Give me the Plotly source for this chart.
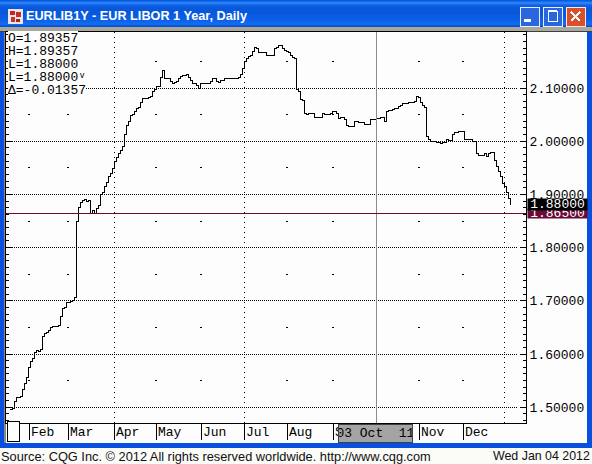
import plotly.graph_objects as go

# ---- data ----
sessions = [0,1,2,3,5,6,7,8,9,10,11,12,13,14,15,16,17,18,19,20,21,24,25,26,27,28,30,31,32,33,34,35,36,37,38,39,40,41,42,43,44,45,46,47,48,49,50,51,52,53,54,55,56,57,58,59,60,61,62,63,64,65,66,69,70,71,72,73,75,76,77,80,81,82,83,84,85,86,88,89,90,91,92,93,94,95,100,101,103,104,105,107,114,115,116,117,118,119,120,121,122,123,124,128,132,133,134,136,137,138,139,140,141,142,143,144,145,146,147,148,149,152,156,157,160,161,163,164,165,167,168,169,172,174,177,180,183,185,187,188,189,191,192,194,195,196,199,202,203,204,205,206,207,208,209,210,213,215,216,218,219,221,222,224,227,231,233,234,237,238,239,240,242,243,244,245,246,247,248,249,250]
closes = [1.495,1.497,1.510,1.519,1.521,1.534,1.545,1.555,1.574,1.585,1.591,1.602,1.606,1.604,1.609,1.632,1.639,1.641,1.645,1.649,1.651,1.653,1.670,1.685,1.688,1.696,1.698,1.701,1.707,1.850,1.876,1.884,1.888,1.891,1.886,1.888,1.865,1.869,1.865,1.873,1.880,1.899,1.904,1.914,1.923,1.933,1.940,1.948,1.961,1.970,1.976,1.983,1.991,2.012,2.030,2.038,2.049,2.051,2.055,2.061,2.064,2.072,2.081,2.083,2.085,2.094,2.098,2.102,2.119,2.132,2.117,2.113,2.109,2.111,2.113,2.117,2.121,2.124,2.126,2.119,2.115,2.109,2.108,2.104,2.100,2.108,2.113,2.117,2.113,2.111,2.115,2.117,2.119,2.126,2.136,2.149,2.156,2.160,2.162,2.168,2.177,2.175,2.166,2.162,2.175,2.177,2.179,2.175,2.170,2.168,2.166,2.162,2.158,2.156,2.098,2.094,2.079,2.076,2.053,2.051,2.053,2.044,2.053,2.051,2.053,2.055,2.053,2.042,2.044,2.040,2.030,2.027,2.038,2.036,2.032,2.040,2.042,2.044,2.038,2.055,2.057,2.059,2.061,2.066,2.068,2.070,2.072,2.074,2.085,2.083,2.072,2.068,2.064,2.008,2.004,2.000,1.998,1.995,1.997,2.004,2.002,2.012,2.017,2.019,2.004,2.000,1.976,1.974,1.976,1.972,1.976,1.978,1.963,1.953,1.944,1.933,1.921,1.914,1.904,1.893,1.880]
month_labels = ["Feb","Mar","Apr","May","Jun","Jul","Aug","Sep","Nov","Dec"]
month_sessions = [9.5,29,52,73,95.5,117,138.5,161.5,204.5,226.5]
dotted_sessions = [52,117,247]
dash_sessions = [9.5,29,73,95.5,138.5,161.5,204.5,226.5]
major_levels = [2.1,2.0,1.9,1.8,1.7,1.6,1.5]
mid_levels = [2.15,2.05,1.95,1.85,1.75,1.65,1.55]
last_value = 1.88
ref_value = 1.865
ohlc_lines = ["O=1.89357","H=1.89357","L=1.88000","L=1.88000\u1d5b","\u0394=-0.01357"]
title_text = "EURLIB1Y - EUR LIBOR 1 Year, Daily"
source_text = "Source: CQG Inc. \u00a9 2012 All rights reserved worldwide. http://www.cqg.com"
date_text = "Wed Jan 04 2012"
cursor_text = "03\u00a0Oct\u00a0\u00a011"

W, H = 592, 464
L, R, T, B = 6, 526, 32, 423
MONO = "Liberation Mono"
px = lambda x: (x - L) / (R - L)
py = lambda y: (B - y) / (B - T)

shapes, annos = [], []

def rect(x0, y0, x1, y1, fill, line=None, lw=1, layer="below"):
    shapes.append(dict(type="rect", xref="paper", yref="paper", x0=px(x0), x1=px(x1), y0=py(y0), y1=py(y1),
                       fillcolor=fill, line=dict(color=line or fill, width=lw if line else 0), layer=layer))

def seg(x0, y0, x1, y1, color, w=1, layer="above"):
    shapes.append(dict(type="line", xref="paper", yref="paper", x0=px(x0), x1=px(x1), y0=py(y0), y1=py(y1),
                       line=dict(color=color, width=w), layer=layer))

def text(x, y, s, font=MONO, size=13, color="black", bold=False, anchor="left", **kw):
    annos.append(dict(xref="paper", yref="paper", x=px(x), y=py(y), text=f"<b>{s}</b>" if bold else s, showarrow=False,
                      xanchor=anchor, yanchor="middle", font=dict(family=font, size=size, color=color),
                      borderpad=0, borderwidth=0, **kw))

# window chrome
rect(0, 448, W, H, "#fbfbf8")
rect(0, 443, W, 448, "#0a50e0")
rect(0, 0, 4, 448, "#0a50e0")
rect(4, 27, 6, 443, "#8a8a80")
rect(587, 27, W, 448, "#0a50e0")
rect(526, 32, 587, 443, "#fdfdfd")
rect(6, 423, 526, 443, "#fdfdfd")
band = ["#0a5bd8","#0f6bf0","#2a83f8","#2a7cf4","#1a6cec","#0f62e4","#0a5ce0","#0858dc","#0858dc","#0858dc","#0858dc","#0858dc",
        "#0858dc","#0858dc","#0858dc","#0a5ce2","#0a5ce2","#0a5ee4","#0a5ee4","#0c60e6","#0c62e8","#0e64ea","#1068ee","#126cf0","#1468ec","#0c5cdc","#0850cc"]
for i, c in enumerate(band):
    rect(0, i, W, i + 1, c)
rect(0, 27, W, 31, "#a8a89c")
rect(0, 31, W, 32, "#404040")
# title icon
rect(8, 9, 23, 24, "#e8e8e8")
rect(10, 11, 15, 15, "#d02020"); rect(16, 12, 21, 17, "#c03030"); rect(11, 17, 15, 22, "#d03030"); rect(16, 19, 20, 22, "#b02020")
# window buttons
rect(520, 7, 539, 26, "#2a66e0", "#e8f0ff")
rect(543, 7, 562, 26, "#2a66e0", "#e8f0ff")
rect(566, 7, 585, 26, "#d8502c", "#ffe8e0")
rect(524, 19, 531, 22, "white")
rect(548, 11, 557, 21, "rgba(0,0,0,0)", "white")
seg(548, 11, 557, 11, "white", 2, "below")
seg(571, 12, 580, 21, "white", 2.5, "below")
seg(580, 12, 571, 21, "white", 2.5, "below")

text(26, 16, title_text, font="Liberation Sans", size=12.7, color="white", bold=True)
text(1, 456, source_text, font="Liberation Sans", size=12.8, color="#101010")
text(590, 456, date_text, font="Liberation Sans", size=12.4, color="#101010", anchor="right")

# grid: dotted lines built from the data levels
for v in major_levels:
    shapes.append(dict(type="line", xref="x", yref="y", x0=-2, x1=253.5, y0=v, y1=v,
                       line=dict(color="black", width=1, dash="1px,1px"), layer="below"))
for s in dotted_sessions:
    shapes.append(dict(type="line", xref="x", yref="paper", x0=s, x1=s, y0=0, y1=1,
                       line=dict(color="black", width=1, dash="1px,4px"), layer="below"))
shapes.append(dict(type="line", xref="x", yref="paper", x0=183, x1=183, y0=0, y1=1,
                   line=dict(color="#8c8c8c", width=1), layer="above"))
shapes.append(dict(type="line", xref="paper", yref="y", x0=0, x1=1, y0=ref_value, y1=ref_value,
                   line=dict(color="#6a0a36", width=1), layer="above"))

# month strip
rect(7, 421, 19, 441, "white", "black", 1, "above")
for s, m in zip(month_sessions, month_labels):
    shapes.append(dict(type="line", xref="x", yref="paper", x0=s, x1=s, y0=py(423), y1=py(440),
                       line=dict(color="black", width=1), layer="above"))
    annos.append(dict(xref="x", yref="paper", x=s, xshift=1, y=py(432), text=m, showarrow=False, xanchor="left", yanchor="middle",
                      font=dict(family=MONO, size=13, color="black"), borderpad=0))
annos.append(dict(xref="paper", yref="paper", x=px(338), y=py(424), text=cursor_text, showarrow=False, xanchor="left", yanchor="top",
                  width=73, height=17, align="center", valign="middle", bgcolor="#a4a4a4", bordercolor="#404040", borderwidth=1, borderpad=0,
                  font=dict(family=MONO, size=13, color="black")))

# OHLC readout
for i, line in enumerate(ohlc_lines):
    text(8, 39 + i * 12.8, line, bgcolor="#fdfdfd")

# price flags
annos.append(dict(xref="paper", yref="y", x=px(527), y=ref_value, text=f"{ref_value:.5f}", showarrow=False, xanchor="left", yanchor="middle",
                  width=59, height=9, bgcolor="#6a0a36", borderpad=0, align="center", font=dict(family=MONO, size=13, color="white")))
annos.append(dict(xref="paper", yref="y", x=px(527), y=last_value, yshift=1, text=f"{last_value:.5f}", showarrow=False, xanchor="left", yanchor="middle",
                  width=59, height=11, bgcolor="black", borderpad=0, align="center", font=dict(family=MONO, size=13, color="white")))

fig = go.Figure()
fig.add_trace(go.Scatter(x=[s for s in dash_sessions for _ in mid_levels], y=mid_levels * len(dash_sessions), mode="markers",
                         marker=dict(symbol="line-ew", size=2, line=dict(color="black", width=1)), hoverinfo="skip"))
fig.add_trace(go.Scatter(x=sessions, y=closes, mode="lines", line=dict(color="black", width=1, shape="hv"), hoverinfo="skip"))
fig.update_layout(
    width=W, height=H, autosize=False, showlegend=False,
    margin=dict(l=L, r=W - R, t=T, b=H - B, autoexpand=False, pad=0),
    paper_bgcolor="white", plot_bgcolor="#fdfdfd",
    shapes=shapes, annotations=annos,
    xaxis=dict(range=[-2, 258], showgrid=False, zeroline=False, showticklabels=False, ticks="",
               showline=True, linecolor="black", linewidth=1, mirror=True),
    yaxis=dict(range=[1.4703, 2.2053], side="right", showgrid=False, zeroline=False,
               tickmode="array", tickvals=major_levels, tickformat=".5f",
               tickfont=dict(family=MONO, size=13, color="black"),
               ticks="inside", ticklen=6, tickcolor="black", tickwidth=1,
               minor=dict(dtick=0.0125, tick0=1.5, ticks="inside", ticklen=3, tickcolor="black", tickwidth=1, showgrid=False),
               showline=True, linecolor="black", linewidth=1, mirror="ticks"),
)
fig.write_html("out.html", config=dict(displayModeBar=False),
               post_script="document.body.style.margin='0';document.body.style.overflow='hidden';"
                           "var st=document.createElement('style');st.textContent='svg path{shape-rendering:crispEdges}';document.head.appendChild(st);")
